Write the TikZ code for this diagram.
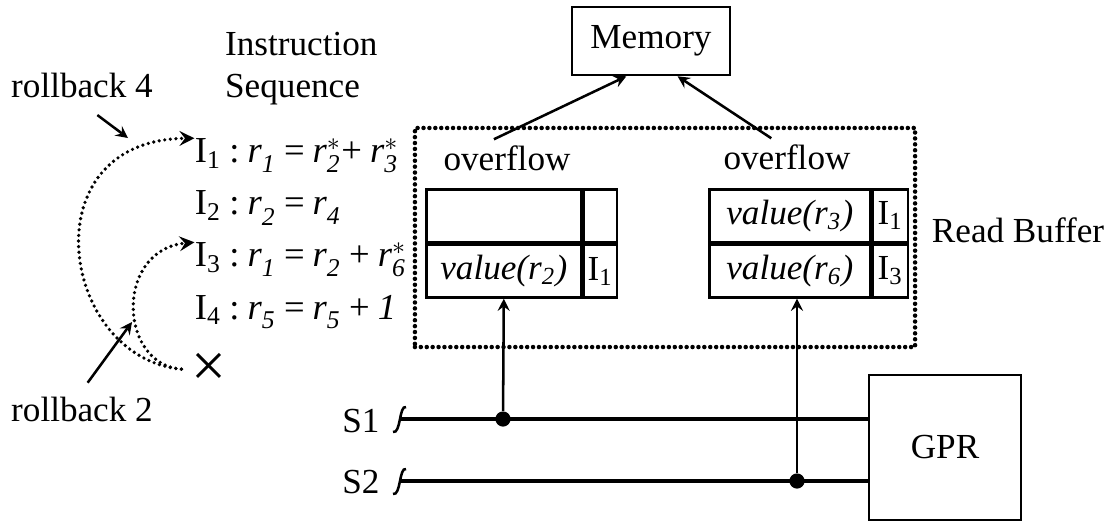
\documentclass[tikz,border=0pt]{standalone}
\usepackage{amsmath}
\usepackage{fontspec}
\setmainfont{Liberation Serif}
\usetikzlibrary{shapes.geometric, arrows}
\tikzstyle{txt} = [draw=none, inner sep=2pt]
\tikzstyle{unitbox} = [rectangle, draw=black, line width=0.9pt, text centered]
\tikzstyle{cell} = [rectangle, draw=black, line width=0.9pt, minimum height=0.66cm, inner sep=0pt, anchor=north west]
\tikzstyle{bufbox} = [rectangle, draw=black, line width=1.6pt, dash pattern=on 0pt off 2.1pt, line cap=round]
\tikzstyle{instr} = [text width=3.2cm, align=left, inner sep=0pt, font=\fontsize{13}{16}\selectfont, execute at begin node={\spaceskip=0.22em\xspaceskip=0.22em\relax}]
\tikzstyle{arrow} = [line width=0.9pt,->,>=stealth]
\tikzstyle{dotarrow} = [line width=1.3pt, dash pattern=on 0pt off 2pt, line cap=round, ->, >=stealth]
\tikzstyle{bus} = [line width=1.3pt]
\tikzstyle{junction} = [circle, fill=black, inner sep=0pt, minimum size=0.19cm]
\newcommand{\rg}[2]{$\textit{r}_{\textit{#1}}^{#2}$}
\newcommand{\Ii}[1]{$\text{I}_{\text{#1}}$}

\begin{document}
\begin{tikzpicture}[x=0.0125cm, y=-0.0125cm, node distance=0.65cm, font=\fontsize{12.5}{15}\selectfont]
		\useasboundingbox (0,0) rectangle (1114,522);

		% instruction sequence
		\node (seqlabel) [txt, align=left, anchor=west] at (219,69) {Instruction\\Sequence};
		\node (i1) [instr] at (323,156) {\Ii{1} : \rg{1}{} = \rg{2}{*}+ \rg{3}{*}};
		\node (i2) [instr, below of=i1] {\Ii{2} : \rg{2}{} = \rg{4}{}};
		\node (i3) [instr, below of=i2] {\Ii{3} : \rg{1}{} = \rg{2}{} + \rg{6}{*}};
		\node (i4) [instr, below of=i3] {\Ii{4} : \rg{5}{} = \rg{5}{} + \textit{1}};
		\node (xmark) [txt, inner sep=0pt, font=\fontsize{22}{22}\selectfont] at (209,370) {×};

		\node (rb4) [txt] at (82,85) {rollback 4};
		\node (rb2) [txt] at (82,409) {rollback 2};
		\coordinate (c4) at (128,138);
		\coordinate (c2) at (132,322);

		\draw [dotarrow, shorten <=0.12cm] (xmark.west) .. controls (60,358) and (28,140) .. (i1.north west);
		\draw [dotarrow, shorten <=0.12cm] (xmark.west) .. controls (118,364) and (115,250) .. (i3.north west);
		\draw [arrow, shorten <=0.24cm] (rb4.south) -- (c4);
		\draw [arrow, shorten <=0.12cm] (rb2.north) -- (c2);

		% read buffer
		\node (mem) [unitbox, minimum width=1.975cm, minimum height=0.85cm] at (651,41) {Memory};
		\node (buf) [bufbox, minimum width=6.25cm, minimum height=2.7375cm] at (665,237.5) {};
		\node (buflabel) [txt] at (1018,230) {Read Buffer};
		\node (ovl) [txt] at (507,158) {overflow};
		\node (ovr) [txt] at (787,157) {overflow};

		\node (lv1) [cell, minimum width=1.9375cm] at (425,188) {};
		\node (lt1) [cell, minimum width=0.4125cm] at (lv1.north east) {};
		\node (lv2) [cell, minimum width=1.9375cm] at (lv1.south west) {\textit{value(r\textsubscript{2})}};
		\node (lt2) [cell, minimum width=0.4125cm] at (lv2.north east) {\Ii{1}};

		\node (rv1) [cell, minimum width=2.0125cm] at (708,188) {\textit{value(r\textsubscript{3})}};
		\node (rt1) [cell, minimum width=0.4375cm] at (rv1.north east) {\Ii{1}};
		\node (rv2) [cell, minimum width=2.0125cm] at (rv1.south west) {\textit{value(r\textsubscript{6})}};
		\node (rt2) [cell, minimum width=0.4375cm] at (rv2.north east) {\Ii{3}};

		\draw [arrow] (ovl.125) -- (mem.235);
		\draw [arrow] (ovr.130) -- (mem.307);

		% register file and buses
		\node (gpr) [unitbox, minimum width=1.9cm, minimum height=1.8125cm] at (945,447.5) {GPR};
		\node (s1) [txt] at (361,421) {S1};
		\node (s2) [txt] at (361,482) {S2};
		\coordinate (s1in) at (400,419);
		\coordinate (s2in) at (400,481);
		\node (j1) [junction] at (503,419) {};
		\node (j2) [junction] at (797,481) {};

		\draw [bus] (s1in) -- (s1in -| gpr.west);
		\draw [bus] (s2in) -- (s2in -| gpr.west);
		\foreach \s in {s1in, s2in}
			\draw [line width=0.9pt] ([shift={(-7,13)}]\s) .. controls ([shift={(1,15)}]\s) and ([shift={(-1,-14)}]\s) .. ([shift={(6,-12)}]\s);

		\draw [arrow] (j1) -- (lv2.south);
		\draw [arrow] (j2) -- (j2 |- rv2.south);
		\end{tikzpicture}
\end{document}
